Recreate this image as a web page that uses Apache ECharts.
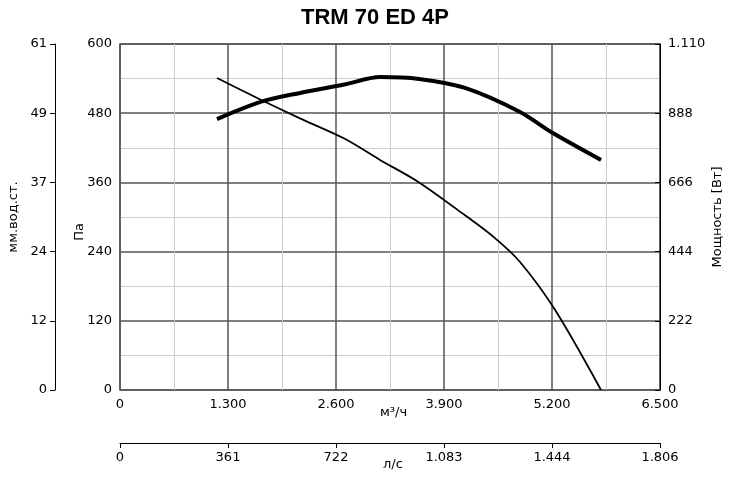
<!DOCTYPE html><html><head><meta charset="utf-8"><script src="https://cdn.jsdelivr.net/npm/echarts@6/dist/echarts.min.js"></script>
<style>body{margin:0}#c{width:750px;height:481px}</style></head><body><div id="c"></div><script>
const flowM3h=[1168,1700,2167,2700,3130,3600,4153,4500,4815,5236,5790];
const pressurePa=[541,503,471,436,399,360,303,265,222,139,0];
const powerFlow=[1168,1700,2167,2700,3130,3600,4153,4815,5200,5790];
const powerW=[869,925,953,980,1004,998,969,892,826,738];
const xTicks=['0','1.300','2.600','3.900','5.200','6.500'];
const lsTicks=['0','361','722','1.083','1.444','1.806'];
const paTicks=['0','120','240','360','480','600'];
const mmTicks=['0','12','24','37','49','61'];
const wTicks=['0','222','444','666','888','1.110'];
const F='DejaVu Sans';
const lab={color:'#000',fontSize:13,fontFamily:F};
const ch=echarts.init(document.getElementById('c'));
ch.setOption({animation:false,
title:{text:'TRM 70 ED 4P',left:'center',top:2,textStyle:{fontSize:22,fontWeight:'bold',fontFamily:'Liberation Sans',color:'#000'}},
grid:{left:120,right:90,top:44,bottom:91},
xAxis:[{type:'value',min:0,max:6500,interval:1300,position:'bottom',axisLine:{show:false},axisTick:{show:false},
 axisLabel:Object.assign({},lab,{formatter:v=>xTicks[Math.round(v/1300)]}),
 splitLine:{lineStyle:{color:'#555',width:1.5}},minorTick:{show:false,splitNumber:2},minorSplitLine:{show:true,lineStyle:{color:'#ccc'}}},
 {type:'value',min:0,max:1806,interval:361.2,position:'bottom',offset:53,axisLine:{show:true,onZero:false,lineStyle:{color:'#000'}},axisTick:{show:true,length:5,lineStyle:{color:'#000'}},
 axisLabel:Object.assign({},lab,{formatter:v=>lsTicks[Math.round(v/361.2)]}),splitLine:{show:false}}],
yAxis:[{type:'value',min:0,max:600,interval:120,position:'left',axisLine:{show:false},axisTick:{show:false},
 axisLabel:Object.assign({},lab,{formatter:v=>paTicks[Math.round(v/120)]}),
 splitLine:{lineStyle:{color:'#555',width:1.5}},minorTick:{show:false,splitNumber:2},minorSplitLine:{show:true,lineStyle:{color:'#ccc'}}},
 {type:'value',min:0,max:61,interval:12.2,position:'left',offset:65,axisLine:{show:true,onZero:false,lineStyle:{color:'#000'}},axisTick:{show:true,length:5,lineStyle:{color:'#000'}},
 axisLabel:Object.assign({},lab,{formatter:v=>mmTicks[Math.round(v/12.2)]}),splitLine:{show:false}},
 {type:'value',min:0,max:1110,interval:222,position:'right',axisLine:{show:true,onZero:false,lineStyle:{color:'#000'}},axisTick:{show:true,inside:true,length:5,lineStyle:{color:'#000'}},
 axisLabel:Object.assign({},lab,{formatter:v=>wTicks[Math.round(v/222)]}),splitLine:{show:false}}],
graphic:[
 {type:'rect',shape:{x:120,y:44,width:540,height:346},style:{fill:'none',stroke:'#555',lineWidth:1.5},silent:true},
 {type:'text',left:380,top:406,style:{text:'м³/ч',fontSize:13,fontFamily:F,fill:'#000'}},
 {type:'text',left:383,top:458,style:{text:'л/с',fontSize:13,fontFamily:F,fill:'#000'}},
 {type:'text',x:80,y:232,rotation:Math.PI/2,style:{text:'Па',fontSize:13,fontFamily:F,fill:'#000',align:'center',verticalAlign:'middle'}},
 {type:'text',x:14,y:217,rotation:Math.PI/2,style:{text:'мм.вод.ст.',fontSize:13,fontFamily:F,fill:'#000',align:'center',verticalAlign:'middle'}},
 {type:'text',x:718,y:217,rotation:Math.PI/2,style:{text:'Мощность [Вт]',fontSize:13,fontFamily:F,fill:'#000',align:'center',verticalAlign:'middle'}}
],
series:[
 {type:'line',smooth:0.3,symbol:'none',yAxisIndex:0,data:flowM3h.map((x,i)=>[x,pressurePa[i]]),lineStyle:{color:'#000',width:1.8}},
 {type:'line',smooth:0.3,symbol:'none',yAxisIndex:2,data:powerFlow.map((x,i)=>[x,powerW[i]]),lineStyle:{color:'#000',width:4}}
]});
</script></body></html>
